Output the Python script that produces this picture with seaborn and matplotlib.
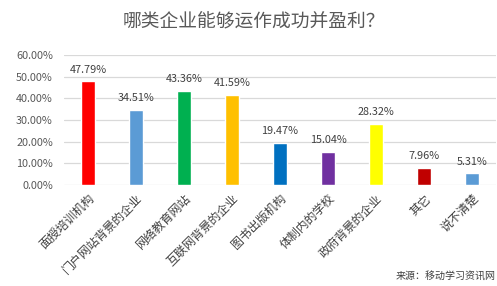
import matplotlib
matplotlib.use("Agg")
import matplotlib.pyplot as plt
import seaborn as sns
import pandas as pd

categories = ["面授培训机构", "门户网站背景的企业", "网络教育网站", "互联网背景的企业",
              "图书出版机构", "体制内的学校", "政府背景的企业", "其它", "说不清楚"]
values = [47.79, 34.51, 43.36, 41.59, 19.47, 15.04, 28.32, 7.96, 5.31]
colors = ["#FF0000", "#5B9BD5", "#00B050", "#FFC000", "#0070C0",
          "#7030A0", "#FFFF00", "#C00000", "#5B9BD5"]
yticks = [0, 10, 20, 30, 40, 50, 60]
title = "哪类企业能够运作成功并盈利？"
source = "来源：移动学习资讯网"

sns.set_theme(style="white")
plt.rcParams['font.family'] = ['Noto Sans CJK SC', 'DejaVu Sans']

df = pd.DataFrame({"cat": categories, "val": values})

fig = plt.figure(figsize=(4.97, 2.86), dpi=100)
ax = fig.add_axes([64/497, 1-185/286, 432/497, 130/286])

sns.barplot(data=df, x="cat", y="val", hue="cat", palette=colors, legend=False,
            width=0.31, ax=ax, saturation=1)

ax.set_ylim(0, 60)
ax.set_xlim(-0.5, 8.5)
ax.set_yticks(yticks)
ax.set_yticklabels([f"{v:.2f}%" for v in yticks], fontsize=7.8, color="#595959")
ax.yaxis.grid(True, color="#D9D9D9", linewidth=0.9)
ax.set_axisbelow(True)
for s in ax.spines.values():
    s.set_visible(False)
ax.tick_params(axis="y", length=0, pad=8)
ax.set_xlabel("")
ax.set_ylabel("")
ax.set_xticks(range(len(categories)))
ax.set_xticklabels(categories, rotation=45, ha="right", rotation_mode="anchor",
                   fontsize=8.6, color="#404040")
ax.tick_params(axis="x", length=0, pad=5)

for cont in ax.containers:
    ax.bar_label(cont, fmt="%.2f%%", padding=5, fontsize=7.8, color="#404040")

fig.text(0.51, 1-22/286, title, ha="center", va="center", fontsize=13.5, color="#595959")
fig.text(496/497, 1-277/286, source, ha="right", va="center", fontsize=7.2, color="#404040")

fig.savefig("out.png", dpi=100)
